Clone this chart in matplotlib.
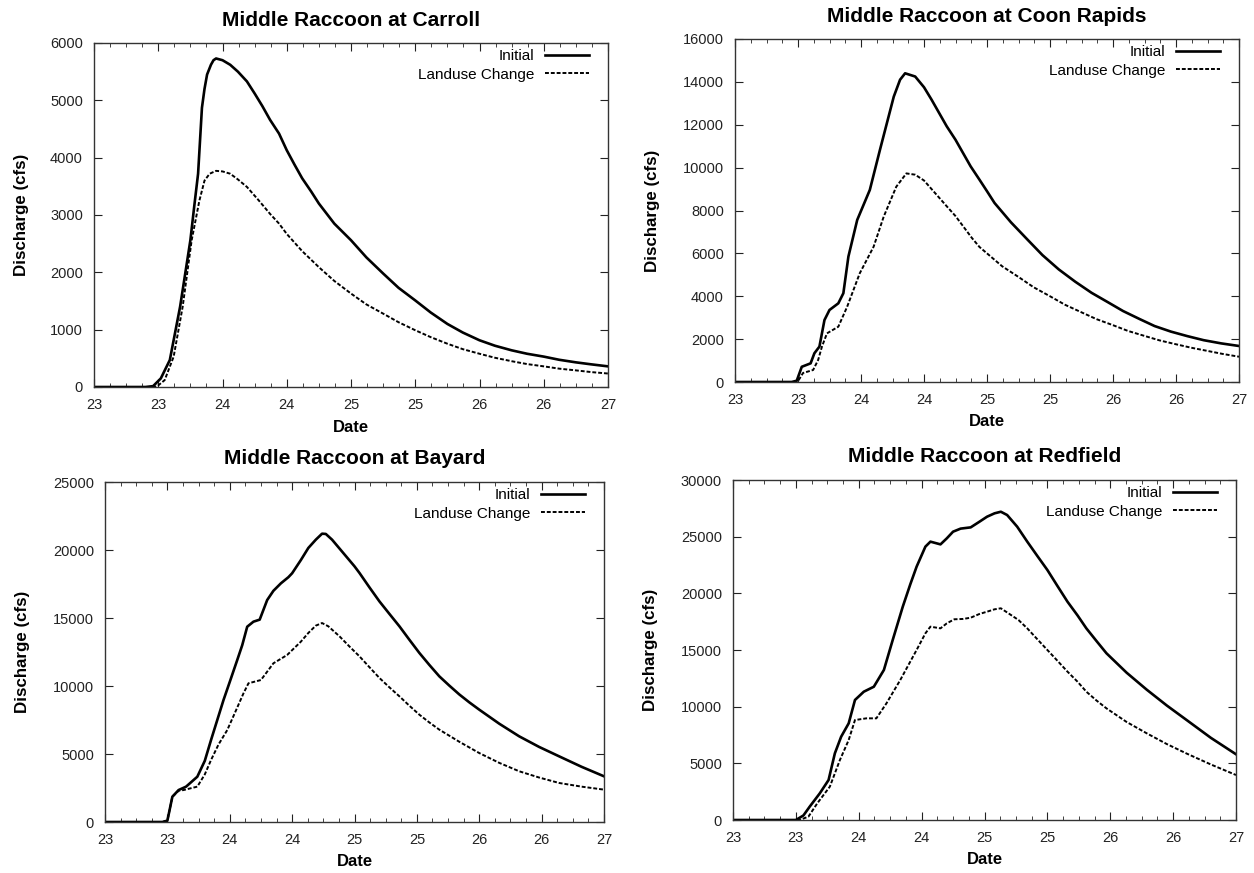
import matplotlib
matplotlib.use("Agg")
import matplotlib.pyplot as plt
from matplotlib.ticker import MultipleLocator, FuncFormatter

plt.rcParams['font.family'] = ['Liberation Sans', 'DejaVu Sans']

# Carroll (day of month, discharge in cfs)
carroll_t_init = [23.0, 23.4, 23.46, 23.52, 23.59, 23.67, 23.75, 23.78, 23.81, 23.84, 23.86, 23.88, 23.91,
                  23.93, 23.95, 24.0, 24.06, 24.12, 24.19, 24.25, 24.31, 24.37, 24.44, 24.5, 24.56,
                  24.62, 24.69, 24.75, 24.87, 25.0, 25.12, 25.25, 25.37, 25.5, 25.62, 25.75, 25.87,
                  26.0, 26.12, 26.25, 26.37, 26.5, 26.62, 26.75, 26.87, 27.0]
carroll_q_init = [0, 0, 15, 150, 470, 1400, 2560, 3150, 3720, 4870, 5200, 5450, 5620,
                  5700, 5730, 5700, 5620, 5500, 5330, 5120, 4900, 4660, 4420, 4130, 3880,
                  3640, 3410, 3200, 2850, 2560, 2260, 1980, 1730, 1510, 1300, 1100, 950,
                  815, 720, 640, 580, 530, 475, 430, 395, 360]
carroll_t_luc = [23.0, 23.44, 23.49, 23.55, 23.62, 23.69, 23.76, 23.82, 23.86, 23.9, 23.95, 24.0, 24.06,
                 24.12, 24.19, 24.28, 24.37, 24.44, 24.5, 24.62, 24.75, 24.87, 25.0, 25.12, 25.25,
                 25.37, 25.5, 25.62, 25.75, 25.87, 26.0, 26.12, 26.25, 26.37, 26.5, 26.62, 26.75,
                 26.87, 27.0]
carroll_q_luc = [0, 0, 10, 120, 530, 1400, 2560, 3250, 3600, 3720, 3770, 3760, 3720,
                 3620, 3490, 3260, 3020, 2850, 2670, 2370, 2090, 1850, 1630, 1440, 1280,
                 1130, 990, 870, 755, 660, 580, 510, 450, 400, 360, 320, 290,
                 260, 235]

# Coon Rapids
coon_t_init = [23.0, 23.45, 23.49, 23.53, 23.6, 23.63, 23.67, 23.71, 23.75, 23.82, 23.86, 23.9, 23.97,
               24.07, 24.15, 24.26, 24.31, 24.35, 24.43, 24.5, 24.56, 24.62, 24.68, 24.75, 24.81,
               24.87, 24.94, 25.0, 25.06, 25.19, 25.32, 25.44, 25.57, 25.7, 25.83, 25.96, 26.08,
               26.21, 26.33, 26.46, 26.59, 26.72, 26.86, 27.0]
coon_q_init = [0, 0, 60, 710, 870, 1340, 1650, 2890, 3360, 3670, 4140, 5850, 7560,
               8960, 10820, 13310, 14100, 14400, 14250, 13750, 13170, 12550, 11930, 11300, 10680,
               10060, 9440, 8900, 8350, 7450, 6650, 5920, 5250, 4680, 4160, 3720, 3310,
               2940, 2610, 2350, 2140, 1950, 1800, 1680]
coon_t_luc = [23.0, 23.47, 23.5, 23.54, 23.62, 23.66, 23.69, 23.73, 23.82, 23.89, 23.99, 24.1, 24.18,
              24.28, 24.36, 24.43, 24.5, 24.56, 24.62, 24.68, 24.75, 24.81, 24.88, 24.94, 25.0,
              25.12, 25.25, 25.37, 25.5, 25.62, 25.75, 25.87, 26.0, 26.12, 26.25, 26.37, 26.5,
              26.62, 26.75, 26.87, 27.0]
coon_q_luc = [0, 0, 40, 420, 560, 1030, 1650, 2270, 2580, 3510, 5070, 6310, 7710,
              9110, 9730, 9670, 9400, 9000, 8600, 8200, 7740, 7270, 6720, 6300, 6000,
              5400, 4900, 4420, 4000, 3600, 3250, 2930, 2650, 2380, 2150, 1940, 1760,
              1600, 1450, 1310, 1180]

# Bayard
bayard_t_init = [23.0, 23.46, 23.5, 23.54, 23.59, 23.65, 23.74, 23.8, 23.85, 23.9, 23.95, 24.0, 24.06,
                 24.1, 24.14, 24.19, 24.24, 24.3, 24.35, 24.41, 24.47, 24.5, 24.57, 24.63, 24.69,
                 24.74, 24.77, 24.82, 24.91, 25.0, 25.04, 25.12, 25.2, 25.28, 25.36, 25.44, 25.52,
                 25.6, 25.68, 25.76, 25.84, 25.92, 26.0, 26.16, 26.32, 26.48, 26.64, 26.82, 27.0]
bayard_q_init = [0, 0, 100, 1860, 2350, 2600, 3330, 4500, 6030, 7500, 8970, 10300, 11910,
                 13000, 14360, 14730, 14880, 16320, 17000, 17550, 18000, 18290, 19260, 20150, 20760,
                 21200, 21180, 20760, 19780, 18800, 18310, 17250, 16220, 15300, 14390, 13400, 12430,
                 11550, 10710, 10030, 9380, 8800, 8260, 7230, 6300, 5520, 4830, 4060, 3360]
bayard_t_luc = [23.0, 23.46, 23.5, 23.54, 23.59, 23.63, 23.74, 23.8, 23.85, 23.91, 23.98, 24.04, 24.11,
                24.15, 24.25, 24.35, 24.46, 24.57, 24.63, 24.69, 24.74, 24.79, 24.88, 24.96, 25.04,
                25.12, 25.2, 25.28, 25.36, 25.44, 25.52, 25.6, 25.68, 25.84, 26.0, 26.16, 26.32,
                26.48, 26.64, 26.82, 27.0]
bayard_q_luc = [0, 0, 100, 1860, 2300, 2350, 2600, 3500, 4560, 5700, 6760, 8000, 9460,
                10200, 10440, 11670, 12280, 13260, 13900, 14440, 14630, 14390, 13650, 12900, 12180,
                11380, 10590, 9900, 9240, 8550, 7890, 7320, 6790, 5900, 5070, 4350, 3730,
                3270, 2870, 2600, 2380]

# Redfield
red_t_init = [23.0, 23.5, 23.56, 23.61, 23.69, 23.76, 23.81, 23.86, 23.92, 23.97, 24.04, 24.12, 24.2,
              24.27, 24.35, 24.41, 24.46, 24.53, 24.57, 24.65, 24.7, 24.75, 24.81, 24.89, 24.96,
              25.02, 25.08, 25.13, 25.18, 25.26, 25.34, 25.42, 25.5, 25.58, 25.66, 25.74, 25.81,
              25.89, 25.97, 26.13, 26.29, 26.45, 26.61, 26.8, 27.0]
red_q_init = [0, 0, 400, 1180, 2350, 3530, 5880, 7350, 8530, 10590, 11320, 11760, 13240,
              15880, 18820, 20800, 22350, 24120, 24560, 24320, 24850, 25440, 25710, 25820, 26320,
              26760, 27060, 27200, 26910, 25880, 24560, 23300, 22060, 20650, 19260, 18050, 16910,
              15800, 14710, 13000, 11500, 10100, 8800, 7250, 5800]
red_t_luc = [23.0, 23.53, 23.6, 23.67, 23.77, 23.85, 23.92, 23.97, 24.06, 24.14, 24.22, 24.33, 24.46,
             24.53, 24.57, 24.65, 24.7, 24.76, 24.83, 24.89, 24.96, 25.02, 25.08, 25.13, 25.19,
             25.27, 25.34, 25.42, 25.5, 25.58, 25.66, 25.74, 25.81, 25.89, 25.97, 26.13, 26.29,
             26.45, 26.61, 26.8, 27.0]
red_q_luc = [0, 0, 300, 1470, 2940, 5290, 7060, 8820, 8970, 8970, 10290, 12350, 15000,
             16470, 17060, 16910, 17350, 17710, 17740, 17850, 18180, 18380, 18590, 18680, 18240,
             17650, 16910, 15950, 15000, 14050, 13090, 12200, 11320, 10550, 9850, 8650, 7650,
             6700, 5850, 4900, 3970]

W, H = 1254, 873
# (title, series..., ymax, ystep, axes box in pixels: left, top, right, bottom, ylabel x)
panels = [
    ("Middle Raccoon at Carroll", carroll_t_init, carroll_q_init, carroll_t_luc, carroll_q_luc,
     6000, 1000, (94, 43, 608, 387, 22)),
    ("Middle Raccoon at Coon Rapids", coon_t_init, coon_q_init, coon_t_luc, coon_q_luc,
     16000, 2000, (735, 39, 1239, 382, 653)),
    ("Middle Raccoon at Bayard", bayard_t_init, bayard_q_init, bayard_t_luc, bayard_q_luc,
     25000, 5000, (105, 482, 604, 822, 22)),
    ("Middle Raccoon at Redfield", red_t_init, red_q_init, red_t_luc, red_q_luc,
     30000, 5000, (733, 480, 1236, 820, 651)),
]

fig = plt.figure(figsize=(W / 100, H / 100), dpi=100)

for title, t1, q1, t2, q2, ymax, ystep, box in panels:
    l, t, r, b, ylx = box
    w, h = r - l, b - t
    ax = fig.add_axes([l / W, (H - b) / H, w / W, h / H])
    ax.plot(t1, q1, color='black', lw=1.9, label='Initial')
    ax.plot(t2, q2, color='black', lw=1.4, dashes=(2, 1), label='Landuse Change')
    ax.set_xlim(23.0, 27.0)
    ax.set_ylim(0, ymax)
    ax.xaxis.set_major_locator(MultipleLocator(0.5))
    ax.xaxis.set_minor_locator(MultipleLocator(0.125))
    ax.xaxis.set_major_formatter(FuncFormatter(lambda v, p: "%d" % int(v + 1e-6)))
    ax.yaxis.set_major_locator(MultipleLocator(ystep))
    ax.tick_params(which='both', direction='in', top=True, right=True, labelsize=10.5,
                   colors='#222222', pad=8)
    ax.tick_params(which='major', length=6)
    ax.tick_params(which='minor', length=3)
    for s in ax.spines.values():
        s.set_linewidth(1.0)
        s.set_color('#333333')
    ax.set_title(title, fontsize=15, fontweight='bold', y=1 + 23 / h, pad=0, va='center')
    ax.set_xlabel("Date", fontsize=12, fontweight='bold')
    ax.xaxis.set_label_coords(0.5, -40 / h)
    ax.set_ylabel("Discharge (cfs)", fontsize=12.2, fontweight='bold')
    ax.yaxis.set_label_coords((ylx - l) / w, 0.5)
    ax.xaxis.label.set_va('center')
    ax.yaxis.label.set_va('center')
    ax.legend(loc='upper right', bbox_to_anchor=(1 - 13 / w, 1.0), borderaxespad=0,
              frameon=False, markerfirst=False, fontsize=11,
              handlelength=2.9, handletextpad=0.65, labelspacing=0.3)

fig.savefig("out.png", dpi=100)
